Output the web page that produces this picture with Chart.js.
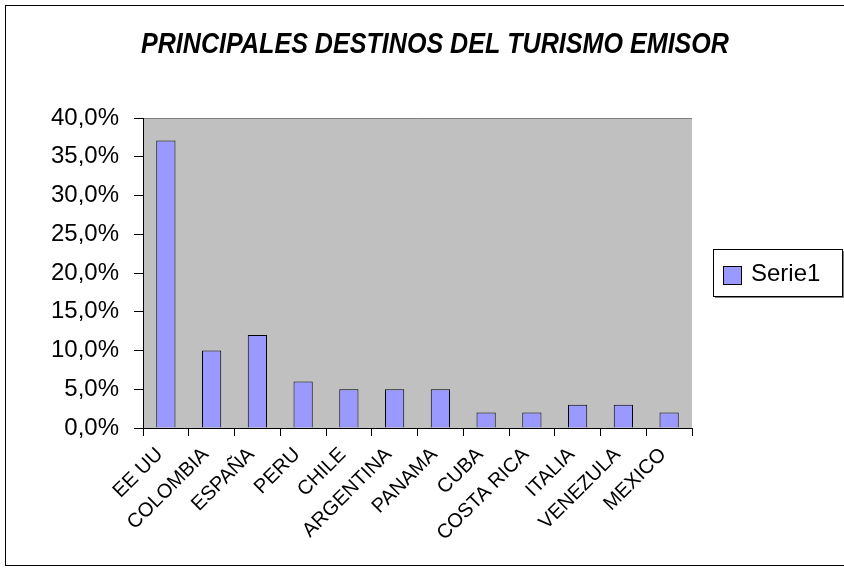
<!DOCTYPE html>
<html>
<head>
<meta charset="utf-8">
<script src="https://cdn.jsdelivr.net/npm/chart.js@4/dist/chart.umd.min.js"></script>
<style>
  html, body { margin: 0; padding: 0; background: #fff; }
  #wrap { width: 844px; height: 571px; }
</style>
</head>
<body>
<div id="wrap"><canvas id="chart" width="844" height="571"></canvas></div>
<script>
const categories = ['EE UU','COLOMBIA','ESPAÑA','PERU','CHILE','ARGENTINA','PANAMA','CUBA','COSTA RICA','ITALIA','VENEZULA','MEXICO'];
const serie1 = [37.1, 10.0, 12.0, 6.0, 5.0, 5.0, 5.0, 2.0, 2.0, 3.0, 3.0, 2.0];
const seriesName = 'Serie1';
const chartTitle = 'PRINCIPALES DESTINOS DEL TURISMO EMISOR';

const font = "'Liberation Sans', Arial, sans-serif";

// plot area background, outer frame, title and legend box
const decor = {
  id: 'decor',
  beforeDraw(chart) {
    const {ctx, chartArea: a} = chart;
    ctx.save();
    ctx.fillStyle = '#fff';
    ctx.fillRect(0, 0, chart.width, chart.height);
    ctx.fillStyle = '#C0C0C0';
    ctx.fillRect(a.left, a.top, a.right - a.left, a.bottom - a.top);
    ctx.strokeStyle = '#808080';
    ctx.lineWidth = 1;
    ctx.beginPath();
    ctx.moveTo(a.left, a.top + 0.5);
    ctx.lineTo(a.right, a.top + 0.5);
    ctx.stroke();
    ctx.restore();
  },
  afterDraw(chart) {
    const {ctx} = chart;
    ctx.save();
    ctx.strokeStyle = '#000';
    ctx.lineWidth = 1;
    ctx.strokeRect(5.5, 5.5, 860, 560);

    // title is horizontally condensed like the original
    ctx.fillStyle = '#000';
    ctx.font = 'italic bold 29px ' + font;
    ctx.textAlign = 'center';
    ctx.textBaseline = 'alphabetic';
    const w = ctx.measureText(chartTitle).width;
    ctx.translate(435, 53);
    ctx.scale(588 / w, 1);
    ctx.fillText(chartTitle, 0, 0);
    ctx.setTransform(1, 0, 0, 1, 0, 0);

    // legend
    ctx.fillStyle = '#808080';
    ctx.fillRect(715, 251, 129, 47);
    ctx.fillStyle = '#fff';
    ctx.fillRect(713, 249, 129, 47);
    ctx.strokeStyle = '#000';
    ctx.strokeRect(713.5, 249.5, 129, 47);
    const ds = chart.data.datasets[0];
    ctx.fillStyle = ds.backgroundColor;
    ctx.fillRect(723.5, 266.5, 18, 18);
    ctx.strokeStyle = '#000';
    ctx.strokeRect(723.5, 266.5, 18, 18);
    ctx.fillStyle = '#000';
    ctx.font = '24px ' + font;
    ctx.textAlign = 'left';
    ctx.textBaseline = 'middle';
    ctx.fillText(ds.label, 751, 274);
    ctx.restore();
  }
};

new Chart(document.getElementById('chart'), {
  type: 'bar',
  data: {
    labels: categories,
    datasets: [{
      label: seriesName,
      data: serie1,
      backgroundColor: '#9999FF',
      borderColor: '#000',
      borderWidth: 1,
      barPercentage: 0.42,
      categoryPercentage: 1
    }]
  },
  options: {
    responsive: false,
    animation: false,
    layout: { padding: { left: 0, top: 118, right: 152, bottom: 0 } },
    plugins: {
      legend: { display: false },
      title: { display: false },
      tooltip: { enabled: false }
    },
    scales: {
      x: {
        afterFit: s => { s.height = 143; },
        grid: { offset: true, drawOnChartArea: false, tickLength: 8, color: '#000' },
        border: { color: '#000' },
        ticks: {
          color: '#000',
          font: { family: font, size: 20 },
          maxRotation: 45,
          minRotation: 45,
          padding: 7,
          labelOffset: -6,
          autoSkip: false
        }
      },
      y: {
        min: 0,
        max: 40,
        afterFit: s => { s.width = 143; },
        grid: { drawOnChartArea: false, tickLength: 9, color: '#000' },
        border: { color: '#000' },
        ticks: {
          stepSize: 5,
          color: '#000',
          padding: 15,
          font: { family: font, size: 24 },
          callback: v => v.toFixed(1).replace('.', ',') + '%'
        }
      }
    }
  },
  plugins: [decor]
});
</script>
</body>
</html>
